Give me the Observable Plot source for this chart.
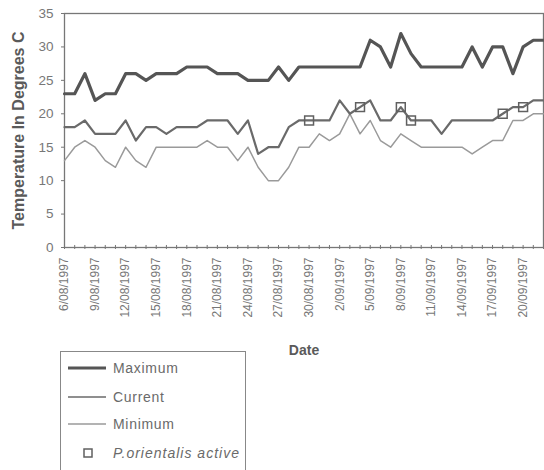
<!DOCTYPE html>
<html><head><meta charset="utf-8">
<script src="https://cdn.jsdelivr.net/npm/d3@7"></script>
<script src="https://cdn.jsdelivr.net/npm/@observablehq/plot@0.6"></script>
<style>
body{margin:0;background:#fff;}
#wrap{position:relative;width:544px;height:470px;overflow:hidden;font-family:"Liberation Sans",Arial,sans-serif;}
#legend{position:absolute;left:60px;top:351px;}
</style></head><body><div id="wrap"><div id="chart"></div><div id="legend"></div></div>
<script>
const dates = ["6/08/1997","7/08/1997","8/08/1997","9/08/1997","10/08/1997","11/08/1997","12/08/1997","13/08/1997",
"14/08/1997","15/08/1997","16/08/1997","17/08/1997","18/08/1997","19/08/1997","20/08/1997","21/08/1997",
"22/08/1997","23/08/1997","24/08/1997","25/08/1997","26/08/1997","27/08/1997","28/08/1997","29/08/1997",
"30/08/1997","31/08/1997","1/09/1997","2/09/1997","3/09/1997","4/09/1997","5/09/1997","6/09/1997",
"7/09/1997","8/09/1997","9/09/1997","10/09/1997","11/09/1997","12/09/1997","13/09/1997","14/09/1997",
"15/09/1997","16/09/1997","17/09/1997","18/09/1997","19/09/1997","20/09/1997","21/09/1997","22/09/1997"];
const maximum = [23,23,26,22,23,23,26,26,25,26,26,26, 27,27,27,26,26,26,25,25,25,27,25,27, 27,27,27,27,27,27,31,30,27,32,29,27, 27,27,27,27,30,27,30,30,26,30,31,31];
const current = [18,18,19,17,17,17,19,16,18,18,17,18, 18,18,19,19,19,17,19,14,15,15,18,19, 19,19,19,22,20,21,22,19,19,21,19,19, 19,17,19,19,19,19,19,20,21,21,22,22];
const minimum = [13,15,16,15,13,12,15,13,12,15,15,15, 15,15,16,15,15,13,15,12,10,10,12,15, 15,17,16,17,20,17,19,16,15,17,16,15, 15,15,15,15,14,15,16,16,19,19,20,20];
const activeDates = ["30/08/1997","4/09/1997","8/09/1997","9/09/1997","18/09/1997","20/09/1997"];
const activeValues = [19,21,21,19,20,21];
const tickLabels = ["6/08/1997","9/08/1997","12/08/1997","15/08/1997","18/08/1997","21/08/1997","24/08/1997","27/08/1997",
"30/08/1997","2/09/1997","5/09/1997","8/09/1997","11/09/1997","14/09/1997","17/09/1997","20/09/1997"];
const yTicks = [0,5,10,15,20,25,30,35];
const seriesNames = ["Maximum","Current","Minimum","P.orientalis active"];

const parse = d3.utcParse("%d/%m/%Y");
const rows = dates.map((d,i)=>({date: parse(d), max: maximum[i], cur: current[i], min: minimum[i]}));
const active = activeDates.map((d,i)=>({date: parse(d), v: activeValues[i]}));
const ticks = tickLabels.map(s=>({date: parse(s), label: s}));
const font = '"Liberation Sans", Arial, sans-serif';

const chart = Plot.plot({
  width: 544, height: 470,
  marginLeft: 64, marginRight: 1, marginTop: 13, marginBottom: 223,
  style: {fontFamily: font, background: "transparent", color: "#777", fontSize: "13.5px"},
  x: {type: "utc", domain: [rows[0].date, rows[rows.length-1].date], axis: null},
  y: {domain: [0, 35], ticks: yTicks, tickSize: 3, tickPadding: 8, label: null, tickFormat: d => String(d)},
  marks: [
    Plot.frame({stroke: "#777", strokeWidth: 1.3}),
    Plot.ruleX(rows, {x: "date", y1: -0.3, y2: 0.3, stroke: "#777"}),
    Plot.line(rows, {x: "date", y: "min", stroke: "#9a9a9a", strokeWidth: 1.5}),
    Plot.line(rows, {x: "date", y: "cur", stroke: "#6a6a6a", strokeWidth: 2.2}),
    Plot.line(rows, {x: "date", y: "max", stroke: "#555", strokeWidth: 3.2}),
    Plot.dot(active, {x: "date", y: "v", symbol: "square", r: 5, stroke: "#606060", strokeWidth: 1.5, fill: "none"}),
    Plot.text(ticks, {x: "date", text: "label", frameAnchor: "bottom", rotate: -90, textAnchor: "end", lineAnchor: "middle", dy: 10, fontSize: 12, fill: "#777"}),
    Plot.text(["Temperature In Degrees C"], {frameAnchor: "left", rotate: -90, textAnchor: "middle", lineAnchor: "middle", dx: -46, fontSize: 16, fontWeight: "bold", fill: "#5a5a5a"}),
    Plot.text(["Date"], {frameAnchor: "bottom", lineAnchor: "middle", dy: 103, fontSize: 14, fontWeight: "bold", fill: "#5a5a5a"})
  ]
});
document.getElementById("chart").append(chart);

// legend
const lg = d3.select("#legend").append("svg").attr("width", 188).attr("height", 125)
  .style("font-family", font);
lg.append("rect").attr("x", 0.5).attr("y", 0.5).attr("width", 185).attr("height", 140)
  .attr("fill", "none").attr("stroke", "#888").attr("stroke-width", 1);
const items = [
  {y: 17, stroke: "#555", w: 3},
  {y: 46, stroke: "#6a6a6a", w: 1.6},
  {y: 73, stroke: "#9a9a9a", w: 1.3}
];
items.forEach((it, i) => {
  lg.append("line").attr("x1", 8).attr("x2", 46).attr("y1", it.y).attr("y2", it.y)
    .attr("stroke", it.stroke).attr("stroke-width", it.w);
  lg.append("text").attr("x", 53).attr("y", it.y + 5).text(seriesNames[i])
    .attr("fill", "#6a6a6a").style("font-size", "14px").style("letter-spacing", "0.7px");
});
lg.append("rect").attr("x", 24).attr("y", 98).attr("width", 8).attr("height", 8)
  .attr("fill", "none").attr("stroke", "#606060").attr("stroke-width", 1.5);
lg.append("text").attr("x", 53).attr("y", 107).text(seriesNames[3])
  .attr("fill", "#6a6a6a").style("font-size", "14px").style("font-style", "italic").style("letter-spacing", "1px");
</script>
</body></html>
